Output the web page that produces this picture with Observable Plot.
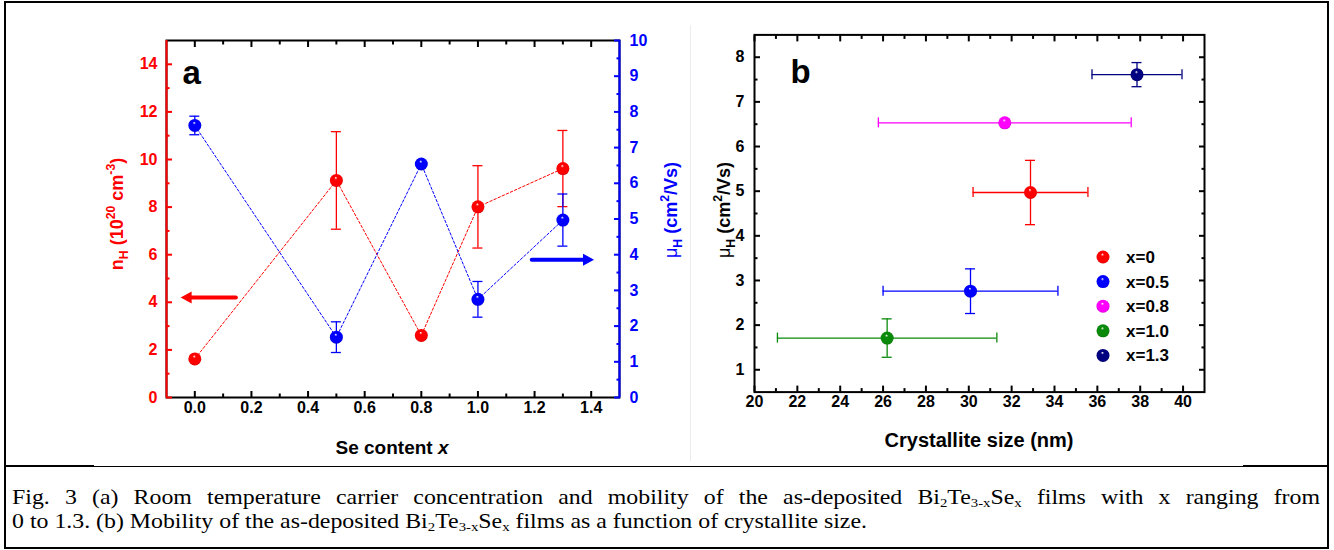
<!DOCTYPE html>
<html><head><meta charset="utf-8">
<script src="https://cdn.jsdelivr.net/npm/d3@7"></script>
<script src="https://cdn.jsdelivr.net/npm/@observablehq/plot@0.6"></script>
<style>
body{margin:0;background:#fff;}
#fig{position:relative;width:1334px;height:550px;overflow:hidden;background:#fff;font-family:"Liberation Sans",Arial,sans-serif;}
#fig > svg{position:absolute;left:0;top:0;}
.ln{position:absolute;background:#000;}
#caption{position:absolute;left:12px;top:485px;font-family:"Liberation Serif","Times New Roman",serif;font-size:21px;line-height:24px;white-space:nowrap;color:#000;transform-origin:0 0;}
#caption sub{font-size:0.62em;vertical-align:-0.2em;line-height:0;}
#cap1{display:block;height:24px;text-align:justify;text-align-last:justify;white-space:normal;}
#cap2{display:inline-block;height:24px;}
</style></head><body>
<div id="fig"></div>
<script>
// ---------- Panel (a) data ----------
const seContent      = [0, 0.5, 0.8, 1.0, 1.3];
const carrierConc    = [1.62, 9.12, 2.61, 8.01, 9.62];   // n_H (1e20 cm^-3)
const carrierConcErr = [0, 2.05, 0, 1.73, 1.60];
const mobilityA      = [7.62, 1.69, 6.54, 2.75, 4.97];   // mu_H (cm2/Vs)
const mobilityAErr   = [0.26, 0.43, 0, 0.50, 0.73];
const xDomainA  = [-0.1, 1.5];
const nDomain   = [0, 15];
const muDomainA = [0, 10];
const xTicksA   = [0, 0.2, 0.4, 0.6, 0.8, 1.0, 1.2, 1.4];
const xMinorA   = [0.1, 0.3, 0.5, 0.7, 0.9, 1.1, 1.3];
const nTicks    = [0, 2, 4, 6, 8, 10, 12, 14];
const nMinor    = [1, 3, 5, 7, 9, 11, 13];
const muTicksA  = [0, 1, 2, 3, 4, 5, 6, 7, 8, 9, 10];
const muMinorA  = [0.5, 1.5, 2.5, 3.5, 4.5, 5.5, 6.5, 7.5, 8.5, 9.5];
const arrowLeft  = [{x1: 0.145, x2: -0.05, y: 4.2}];   // on n_H axis
const arrowRight = [{x1: 1.19, x2: 1.41, y: 3.86}];    // on mu_H axis

// ---------- Panel (b) data ----------
const seriesB        = ["x=0", "x=0.5", "x=0.8", "x=1.0", "x=1.3"];
const crystallite    = [32.88, 30.08, 31.68, 26.19, 37.85];  // nm
const crystalliteErr = [2.68, 4.08, 5.90, 5.12, 2.10];
const mobilityB      = [4.97, 2.76, 6.53, 1.71, 7.61];
const mobilityBErr   = [0.72, 0.50, 0, 0.43, 0.27];
const xDomainB  = [20, 41];
const yDomainB  = [0.5, 8.5];
const xTicksB   = [20, 22, 24, 26, 28, 30, 32, 34, 36, 38, 40];
const xMinorB   = [21, 23, 25, 27, 29, 31, 33, 35, 37, 39];
const yTicksB   = [1, 2, 3, 4, 5, 6, 7, 8];
const yMinorB   = [1.5, 2.5, 3.5, 4.5, 5.5, 6.5, 7.5];

// ---------- styling ----------
const RED = "#ff0000", BLUE = "#0000ff";
const seriesColors = ["#ff0000", "#0000ff", "#ff00ff", "#0a8a0a", "#000080"];
const FONT = '"Liberation Sans", Arial, Helvetica, sans-serif';
const W = 1334, H = 470;

const fig = d3.select("#fig");

// sphere gradients
const defsSvg = fig.append("svg").attr("width", 0).attr("height", 0);
const defs = defsSvg.append("defs");
function sphereId(c) { return "sph" + c.replace("#", ""); }
for (const c of [RED, BLUE, ...seriesColors]) {
  const g = defs.append("radialGradient").attr("id", sphereId(c))
    .attr("cx", "0.5").attr("cy", "0.5").attr("r", "0.55").attr("fx", "0.45").attr("fy", "0.28");
  const dark = d3.color(c).darker(0.9).formatHex();
  g.append("stop").attr("offset", "0").attr("stop-color", "#ffffff");
  g.append("stop").attr("offset", "0.22").attr("stop-color", c);
  g.append("stop").attr("offset", "0.8").attr("stop-color", c);
  g.append("stop").attr("offset", "1").attr("stop-color", dark);
}

// arrow-head symbols
function headSymbol(dir) {
  return {draw(ctx, size) {
    const L = Math.sqrt(size), hw = 0.55 * L;
    ctx.moveTo(dir * L / 2, 0); ctx.lineTo(-dir * L / 2, -hw); ctx.lineTo(-dir * L / 2, hw); ctx.closePath();
  }};
}

const rowsA = seContent.map((x, i) => ({x, n: carrierConc[i], nErr: carrierConcErr[i], mu: mobilityA[i], muErr: mobilityAErr[i]}));
const rowsB = seriesB.map((s, i) => ({s, c: crystallite[i], cErr: crystalliteErr[i], mu: mobilityB[i], muErr: mobilityBErr[i], color: seriesColors[i]}));

const baseStyle = {background: "transparent", fontFamily: FONT, fontSize: "16px", fontWeight: "bold", overflow: "visible"};
const MAJ = -6, MIN = -3.5;

// ---------- Panel (a): left axis (n_H, red) ----------
const frameA = {marginLeft: 166, marginRight: W - 619, marginTop: 40, marginBottom: H - 397};
const plotA1 = Plot.plot({
  width: W, height: H, ...frameA,
  x: {domain: xDomainA, label: null},
  y: {domain: nDomain, label: null},
  style: baseStyle,
  marks: [
    Plot.frame({stroke: "#000", strokeWidth: 2}),
    Plot.axisX({anchor: "bottom", ticks: xTicksA, tickSize: MAJ, tickPadding: 10, strokeWidth: 2, tickFormat: d3.format(".1f"), label: null, fill: "#000"}),
    Plot.axisX({anchor: "bottom", ticks: xMinorA, tickSize: MIN, strokeWidth: 2, text: null, label: null}),
    Plot.axisX({anchor: "top", ticks: xTicksA, tickSize: MAJ, strokeWidth: 2, text: null, label: null}),
    Plot.axisX({anchor: "top", ticks: xMinorA, tickSize: MIN, strokeWidth: 2, text: null, label: null}),
    Plot.ruleX([xDomainA[0]], {stroke: RED, strokeWidth: 2}),
    Plot.axisY({anchor: "left", ticks: nTicks, tickSize: MAJ, tickPadding: 15, strokeWidth: 2, color: RED, label: null}),
    Plot.axisY({anchor: "left", ticks: nMinor, tickSize: MIN, strokeWidth: 2, color: RED, text: null, label: null}),
    Plot.line(rowsA, {x: "x", y: "n", stroke: RED, strokeWidth: 1, strokeDasharray: "2.5,2"}),
    Plot.ruleX(rowsA.filter(d => d.nErr > 0), {x: "x", y1: d => d.n - d.nErr, y2: d => d.n + d.nErr, stroke: RED, strokeWidth: 1.3}),
    Plot.ruleY(rowsA.filter(d => d.nErr > 0), {y: d => d.n - d.nErr, x1: "x", x2: "x", insetLeft: -5, insetRight: -5, stroke: RED, strokeWidth: 1.3}),
    Plot.ruleY(rowsA.filter(d => d.nErr > 0), {y: d => d.n + d.nErr, x1: "x", x2: "x", insetLeft: -5, insetRight: -5, stroke: RED, strokeWidth: 1.3}),
    Plot.dot(rowsA, {x: "x", y: "n", r: 6.5, fill: `url(#${sphereId(RED)})`, stroke: null}),
    Plot.arrow(arrowLeft, {x1: "x1", y1: "y", x2: "x2", y2: "y", stroke: RED, strokeWidth: 4, headLength: 0, insetEnd: 6}),
    Plot.dot(arrowLeft, {x: "x2", y: "y", symbol: headSymbol(-1), r: 6.2, fill: RED, stroke: null, dx: 5.5}),
    Plot.text(["a"], {frameAnchor: "top-left", dx: 16, dy: 43, lineAnchor: "bottom", textAnchor: "start", fontSize: 33, fontWeight: "bold", fill: "#000"})
  ]
});
fig.append(() => plotA1);

// ---------- Panel (a): right axis (mu_H, blue) ----------
const plotA2 = Plot.plot({
  width: W, height: H, ...frameA,
  x: {domain: xDomainA, label: null, axis: null},
  y: {domain: muDomainA, label: null},
  style: baseStyle,
  marks: [
    Plot.ruleX([xDomainA[1]], {stroke: BLUE, strokeWidth: 2}),
    Plot.axisY({anchor: "right", ticks: muTicksA, tickSize: MAJ, tickPadding: 16, strokeWidth: 2, color: BLUE, label: null}),
    Plot.axisY({anchor: "right", ticks: muMinorA, tickSize: MIN, strokeWidth: 2, color: BLUE, text: null, label: null}),
    Plot.line(rowsA, {x: "x", y: "mu", stroke: BLUE, strokeWidth: 1, strokeDasharray: "2.5,2"}),
    Plot.ruleX(rowsA.filter(d => d.muErr > 0), {x: "x", y1: d => d.mu - d.muErr, y2: d => d.mu + d.muErr, stroke: BLUE, strokeWidth: 1.3}),
    Plot.ruleY(rowsA.filter(d => d.muErr > 0), {y: d => d.mu - d.muErr, x1: "x", x2: "x", insetLeft: -5, insetRight: -5, stroke: BLUE, strokeWidth: 1.3}),
    Plot.ruleY(rowsA.filter(d => d.muErr > 0), {y: d => d.mu + d.muErr, x1: "x", x2: "x", insetLeft: -5, insetRight: -5, stroke: BLUE, strokeWidth: 1.3}),
    Plot.dot(rowsA, {x: "x", y: "mu", r: 6.5, fill: `url(#${sphereId(BLUE)})`, stroke: null}),
    Plot.arrow(arrowRight, {x1: "x1", y1: "y", x2: "x2", y2: "y", stroke: BLUE, strokeWidth: 4, headLength: 0, insetEnd: 6}),
    Plot.dot(arrowRight, {x: "x2", y: "y", symbol: headSymbol(1), r: 6.2, fill: BLUE, stroke: null, dx: -5.5})
  ]
});
fig.append(() => plotA2);

// ---------- Panel (b) ----------
const seriesMarks = rowsB.flatMap(d => {
  const one = [d];
  const m = [
    Plot.ruleY(one, {y: "mu", x1: r => r.c - r.cErr, x2: r => r.c + r.cErr, stroke: d.color, strokeWidth: 1.3}),
    Plot.ruleX(one, {x: r => r.c - r.cErr, y1: "mu", y2: "mu", insetTop: -5, insetBottom: -5, stroke: d.color, strokeWidth: 1.3}),
    Plot.ruleX(one, {x: r => r.c + r.cErr, y1: "mu", y2: "mu", insetTop: -5, insetBottom: -5, stroke: d.color, strokeWidth: 1.3})
  ];
  if (d.muErr > 0) m.push(
    Plot.ruleX(one, {x: "c", y1: r => r.mu - r.muErr, y2: r => r.mu + r.muErr, stroke: d.color, strokeWidth: 1.3}),
    Plot.ruleY(one, {y: r => r.mu - r.muErr, x1: "c", x2: "c", insetLeft: -5, insetRight: -5, stroke: d.color, strokeWidth: 1.3}),
    Plot.ruleY(one, {y: r => r.mu + r.muErr, x1: "c", x2: "c", insetLeft: -5, insetRight: -5, stroke: d.color, strokeWidth: 1.3})
  );
  m.push(Plot.dot(one, {x: "c", y: "mu", r: 6.5, fill: `url(#${sphereId(d.color)})`, stroke: null}));
  return m;
});
const plotB = Plot.plot({
  width: W, height: H, marginLeft: 754, marginRight: W - 1204, marginTop: 34.4, marginBottom: H - 391.6,
  x: {domain: xDomainB, label: null},
  y: {domain: yDomainB, label: null},
  style: baseStyle,
  marks: [
    Plot.frame({stroke: "#000", strokeWidth: 2}),
    Plot.axisX({anchor: "bottom", ticks: xTicksB, tickSize: MAJ, tickPadding: 10, strokeWidth: 2, label: null}),
    Plot.axisX({anchor: "bottom", ticks: xMinorB, tickSize: MIN, strokeWidth: 2, text: null, label: null}),
    Plot.axisX({anchor: "top", ticks: xTicksB, tickSize: MAJ, strokeWidth: 2, text: null, label: null}),
    Plot.axisX({anchor: "top", ticks: xMinorB, tickSize: MIN, strokeWidth: 2, text: null, label: null}),
    Plot.axisY({anchor: "left", ticks: yTicksB, tickSize: MAJ, tickPadding: 16, strokeWidth: 2, label: null}),
    Plot.axisY({anchor: "left", ticks: yMinorB, tickSize: MIN, strokeWidth: 2, text: null, label: null}),
    Plot.axisY({anchor: "right", ticks: yTicksB, tickSize: MAJ, strokeWidth: 2, text: null, label: null}),
    Plot.axisY({anchor: "right", ticks: yMinorB, tickSize: MIN, strokeWidth: 2, text: null, label: null}),
    ...seriesMarks,
    Plot.text(["b"], {frameAnchor: "top-left", dx: 36, dy: 48, lineAnchor: "bottom", textAnchor: "start", fontSize: 33, fontWeight: "bold", fill: "#000"})
  ]
});
fig.append(() => plotB);

// ---------- titles & legend overlay ----------
const ov = fig.append("svg").attr("width", W).attr("height", H)
  .style("font-family", FONT).style("overflow", "visible");
function rich(parts, {x, y, rotate = 0, size, color = "#000"}) {
  const t = ov.append("text").attr("transform", `translate(${x},${y}) rotate(${rotate})`)
    .attr("text-anchor", "middle").attr("fill", color).attr("font-size", size).attr("font-weight", "bold");
  let shift = 0;
  for (const p of parts) {
    const ts = t.append("tspan").text(p.t);
    const target = p.sub ? 0.28 * size : p.sup ? -0.42 * size : 0;
    if (target !== shift) { ts.attr("dy", target - shift); shift = target; }
    if (p.sub || p.sup) ts.attr("font-size", size * 0.68);
    if (p.italic) ts.attr("font-style", "italic");
    if (p.normal) ts.attr("font-weight", "normal");
  }
}
rich([{t: "n"}, {t: "H", sub: true}, {t: " (10"}, {t: "20", sup: true}, {t: " cm"}, {t: "-3", sup: true}, {t: ")"}],
  {x: 123, y: 214, rotate: -90, size: 18, color: RED});
rich([{t: "\u03bc", normal: true}, {t: "H", sub: true}, {t: " (cm"}, {t: "2", sup: true}, {t: "/Vs)"}],
  {x: 677, y: 210, rotate: -90, size: 18, color: BLUE});
rich([{t: "\u03bc", normal: true}, {t: "H", sub: true}, {t: " (cm"}, {t: "2", sup: true}, {t: "/Vs)"}],
  {x: 730, y: 210, rotate: -90, size: 18, color: "#000"});
rich([{t: "Se content "}, {t: "x", italic: true}], {x: 392, y: 454, size: 19});
rich([{t: "Crystallite size (nm)"}], {x: 979, y: 447, size: 20});

// legend
const legendRow0 = 257, legendStep = 24.6;
seriesB.forEach((s, i) => {
  const y = legendRow0 + i * legendStep;
  ov.append("circle").attr("cx", 1103).attr("cy", y).attr("r", 6.5).attr("fill", `url(#${sphereId(seriesColors[i])})`);
  ov.append("text").attr("x", 1126).attr("y", y + 6).attr("font-size", 17).attr("font-weight", "bold").text(s);
});

// ---------- frame lines ----------
const box = (l, t, w, h) => fig.append("div").attr("class", "ln").style("left", l + "px").style("top", t + "px").style("width", w + "px").style("height", h + "px");
box(4, 1, 2, 548);      // left border
box(1327, 1, 2, 548);   // right border
box(4, 1, 1325, 2);     // top border
box(4, 547, 1325, 2);   // bottom border
box(4, 465, 90, 2);     // separator (thick left)
box(94, 466, 1149, 1);  // separator (thin)
box(1243, 465, 86, 2);  // separator (thick right)
fig.append("div").attr("class", "ln").style("left", "690px").style("top", "25px").style("width", "1px").style("height", "436px").style("background", "#ececec");

// ---------- caption ----------
const cap = fig.append("div").attr("id", "caption");
const cap1 = cap.append("div").attr("id", "cap1").html(
  "Fig. 3 (a) Room temperature carrier concentration and mobility of the as-deposited Bi<sub>2</sub>Te<sub>3-x</sub>Se<sub>x</sub> films with x ranging from");
const cap2 = cap.append("div").attr("id", "cap2").html(
  "0 to 1.3. (b) Mobility of the as-deposited Bi<sub>2</sub>Te<sub>3-x</sub>Se<sub>x</sub> films as a function of crystallite size.");
const w2 = cap2.node().getBoundingClientRect().width;
const k = 855 / w2;
cap.style("transform", `scaleX(${k})`);
cap1.style("width", (1308 / k) + "px");
</script>
</body></html>
